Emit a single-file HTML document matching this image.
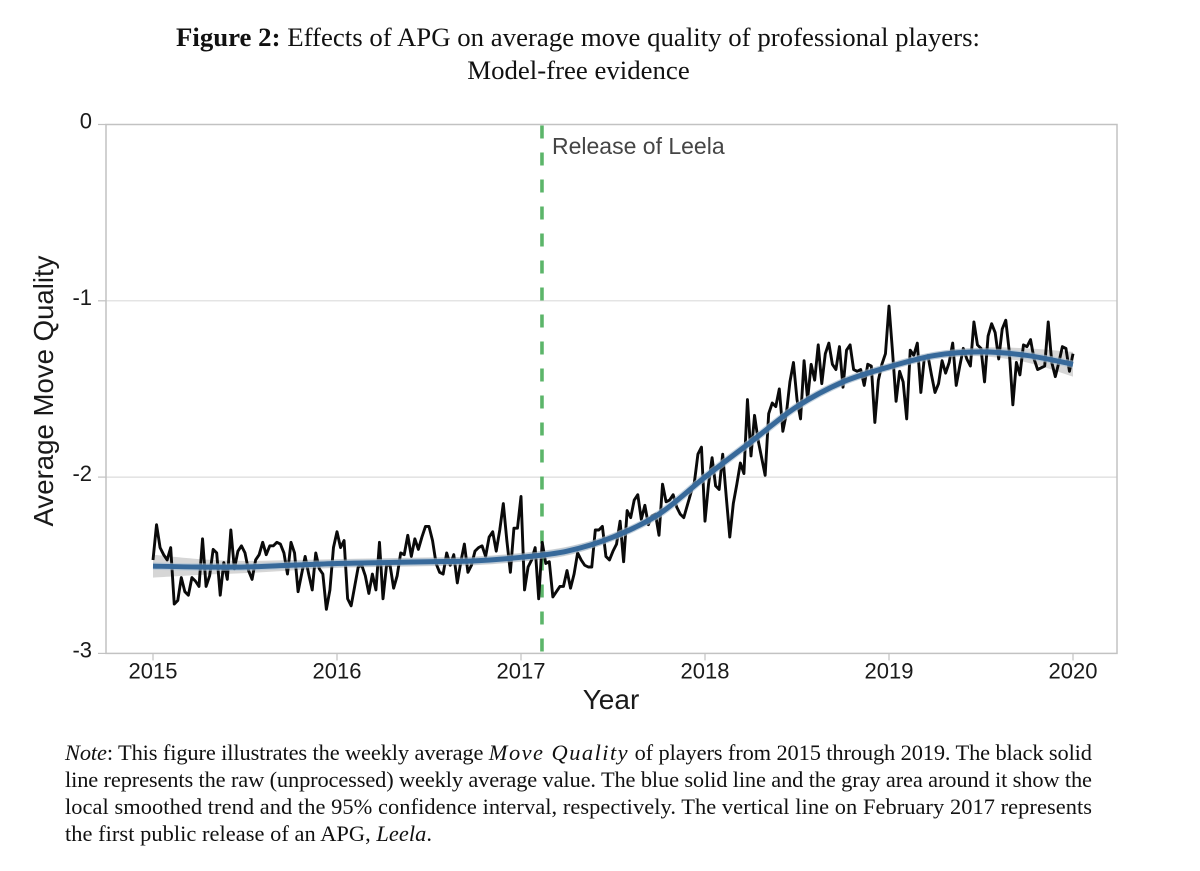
<!DOCTYPE html>
<html lang="en">
<head>
<meta charset="utf-8">
<title>Figure 2: Effects of APG on average move quality</title>
<style>
  html, body { margin: 0; padding: 0; background: #ffffff; }
  svg { display: block; }
  .serif { font-family: "Liberation Serif", serif; fill: #111; }
  .sans { font-family: "Liberation Sans", sans-serif; fill: #1a1a1a; }
</style>
</head>
<body>
<svg id="chart" xmlns="http://www.w3.org/2000/svg" width="1200" height="871" viewBox="0 0 1200 871">
  <rect x="0" y="0" width="1200" height="871" fill="#ffffff"/>
  <text class="serif" x="176" y="46" font-size="26.8" textLength="804"><tspan font-weight="bold">Figure 2:</tspan> Effects of APG on average move quality of professional players:</text>
  <text class="serif" x="578.5" y="79" font-size="26.8" text-anchor="middle">Model-free evidence</text>
  <g id="layer-grid"></g>
  <g id="layer-axes"></g>
  <g id="layer-marks"></g>
  <text class="sans" x="552" y="154" font-size="23" style="fill:#454545">Release of Leela</text>
  <text class="sans" x="611" y="709" font-size="28" text-anchor="middle">Year</text>
  <text class="sans" x="0" y="0" font-size="27.6" text-anchor="middle" transform="translate(53 391) rotate(-90)">Average Move Quality</text>
  <text class="serif" x="65" y="760" font-size="22.4" textLength="1027"><tspan font-style="italic">Note</tspan>: This figure illustrates the weekly average <tspan font-style="italic" letter-spacing="1.6">Move Quality</tspan> of players from 2015 through 2019. The black solid</text>
  <text class="serif" x="65" y="787" font-size="22.4" textLength="1027">line represents the raw (unprocessed) weekly average value. The blue solid line and the gray area around it show the</text>
  <text class="serif" x="65" y="814" font-size="22.4" textLength="1027">local smoothed trend and the 95% confidence interval, respectively. The vertical line on February 2017 represents</text>
  <text class="serif" x="65" y="841" font-size="22.4" textLength="367">the first public release of an APG, <tspan font-style="italic">Leela</tspan>.</text>
</svg>
<script>
const yearTicks = [2015, 2016, 2017, 2018, 2019, 2020];
const valueTicks = [0, -1, -2, -3];
const gridValues = [-1, -2];
const releaseYear = 2017.114;
const weeksPerYear = 52;
const rawWeekly = [
  -2.47,-2.27,-2.40,-2.44,-2.47,-2.40,-2.72,-2.70,-2.57,-2.65,-2.67,-2.57,-2.59,-2.62,-2.35,-2.62,-2.56,-2.41,-2.43,-2.67,
  -2.485,-2.58,-2.30,-2.52,-2.42,-2.39,-2.43,-2.53,-2.58,-2.47,-2.44,-2.37,-2.44,-2.39,-2.39,-2.37,-2.38,-2.43,-2.55,-2.37,
  -2.43,-2.65,-2.55,-2.45,-2.55,-2.64,-2.43,-2.52,-2.55,-2.75,-2.64,-2.40,-2.31,
  -2.40,-2.36,-2.69,-2.73,-2.62,-2.51,-2.50,-2.56,-2.66,-2.55,-2.64,-2.37,-2.69,-2.50,-2.50,-2.63,-2.56,-2.43,-2.44,-2.33,
  -2.45,-2.35,-2.41,-2.34,-2.28,-2.28,-2.36,-2.49,-2.54,-2.55,-2.43,-2.50,-2.44,-2.60,-2.48,-2.38,-2.54,-2.50,-2.42,-2.40,
  -2.39,-2.45,-2.34,-2.31,-2.42,-2.30,-2.15,-2.36,-2.54,-2.29,-2.29,-2.11,-2.64,-2.51,
  -2.47,-2.40,-2.69,-2.37,-2.49,-2.48,-2.68,-2.65,-2.62,-2.62,-2.53,-2.63,-2.55,-2.43,-2.47,-2.50,-2.51,-2.51,-2.30,-2.30,
  -2.28,-2.45,-2.47,-2.42,-2.38,-2.25,-2.48,-2.19,-2.23,-2.13,-2.10,-2.24,-2.16,-2.27,-2.22,-2.21,-2.33,-2.04,-2.14,-2.13,
  -2.10,-2.17,-2.21,-2.23,-2.16,-2.09,-2.03,-1.87,-1.83,-2.25,-2.04,-1.89,-2.05,-2.07,
  -1.87,-2.11,-2.34,-2.15,-2.04,-1.92,-1.98,-1.56,-1.88,-1.65,-1.79,-1.89,-1.99,-1.64,-1.58,-1.60,-1.50,-1.74,-1.64,-1.46,
  -1.35,-1.56,-1.67,-1.34,-1.56,-1.36,-1.45,-1.25,-1.47,-1.30,-1.24,-1.36,-1.39,-1.26,-1.49,-1.28,-1.25,-1.39,-1.40,-1.39,
  -1.48,-1.36,-1.37,-1.69,-1.45,-1.36,-1.30,
  -1.03,-1.29,-1.57,-1.40,-1.46,-1.67,-1.28,-1.31,-1.24,-1.52,-1.32,-1.31,-1.42,-1.52,-1.47,-1.34,-1.41,-1.35,-1.24,-1.48,
  -1.37,-1.27,-1.33,-1.37,-1.12,-1.25,-1.27,-1.46,-1.20,-1.13,-1.18,-1.33,-1.16,-1.11,-1.29,-1.59,-1.35,-1.42,-1.25,-1.26,
  -1.22,-1.33,-1.39,-1.38,-1.37,-1.12,-1.35,-1.43,-1.35,-1.26,-1.27,-1.40,-1.30
];
const smoothYears = [2015,2015.25,2015.5,2015.75,2016,2016.25,2016.5,2016.75,2017,2017.25,2017.5,2017.75,2018,2018.25,2018.5,2018.75,2019,2019.25,2019.5,2019.75,2020];
const smoothValues = [-2.505,-2.51,-2.51,-2.50,-2.49,-2.485,-2.48,-2.475,-2.455,-2.42,-2.34,-2.21,-2.00,-1.80,-1.60,-1.46,-1.375,-1.31,-1.29,-1.31,-1.36];
const smoothMargin = [0.065,0.045,0.035,0.03,0.025,0.025,0.025,0.025,0.025,0.025,0.02,0.02,0.02,0.02,0.02,0.02,0.02,0.02,0.025,0.04,0.07];

const SVG_NS = 'http://www.w3.org/2000/svg';
function xScale(year) { return 153 + (year - 2015) * 184; }
function yScale(value) { return 124.5 - value * 176.3; }
function make(parent, tag, attrs, text) {
  const el = document.createElementNS(SVG_NS, tag);
  for (const k in attrs) el.setAttribute(k, attrs[k]);
  if (text !== undefined) el.textContent = text;
  parent.appendChild(el);
  return el;
}
function smoothPath(points, move) {
  let d = (move ? 'M' : 'L') + points[0][0].toFixed(2) + ' ' + points[0][1].toFixed(2);
  for (let i = 0; i < points.length - 1; i++) {
    const p0 = points[Math.max(i - 1, 0)], p1 = points[i], p2 = points[i + 1], p3 = points[Math.min(i + 2, points.length - 1)];
    const c1x = p1[0] + (p2[0] - p0[0]) / 6, c1y = p1[1] + (p2[1] - p0[1]) / 6;
    const c2x = p2[0] - (p3[0] - p1[0]) / 6, c2y = p2[1] - (p3[1] - p1[1]) / 6;
    d += 'C' + c1x.toFixed(2) + ' ' + c1y.toFixed(2) + ' ' + c2x.toFixed(2) + ' ' + c2y.toFixed(2) + ' ' + p2[0].toFixed(2) + ' ' + p2[1].toFixed(2);
  }
  return d;
}

const gridLayer = document.getElementById('layer-grid');
const axesLayer = document.getElementById('layer-axes');
const marksLayer = document.getElementById('layer-marks');
const plotLeft = 106, plotRight = 1117;
const plotTop = yScale(0), plotBottom = yScale(-3);
const axisColor = '#c2c2c2';

gridValues.forEach(function (v) {
  const line = make(gridLayer, 'line', { x1: plotLeft, x2: plotRight, y1: yScale(v), y2: yScale(v), stroke: '#dcdcdc', 'stroke-width': 1.2 });
  
  
});

const frame = make(axesLayer, 'rect', { x: plotLeft, y: plotTop, width: plotRight - plotLeft, height: plotBottom - plotTop, fill: 'none', stroke: axisColor, 'stroke-width': 1.5 });



valueTicks.forEach(function (v) {
  const tick = make(axesLayer, 'line', { x1: plotLeft - 8, x2: plotLeft, y1: yScale(v), y2: yScale(v), stroke: axisColor, 'stroke-width': 1.2 });
  
  
  const label = make(axesLayer, 'text', { x: 92, y: yScale(v) + 4, 'text-anchor': 'end', 'font-size': 22, class: 'sans' }, String(v));
  
  
});

yearTicks.forEach(function (y) {
  const tick = make(axesLayer, 'line', { x1: xScale(y), x2: xScale(y), y1: plotBottom, y2: plotBottom + 7, stroke: axisColor, 'stroke-width': 1.2 });
  
  
  const label = make(axesLayer, 'text', { x: xScale(y), y: plotBottom + 25, 'text-anchor': 'middle', 'font-size': 22, class: 'sans' }, String(y));
  
  
});

const upperPts = smoothYears.map(function (y, i) { return [xScale(y), yScale(smoothValues[i] + smoothMargin[i])]; });
const lowerPts = smoothYears.map(function (y, i) { return [xScale(y), yScale(smoothValues[i] - smoothMargin[i])]; }).reverse();
const band = make(marksLayer, 'path', { d: smoothPath(upperPts, true) + smoothPath(lowerPts, false) + 'Z', fill: '#cfcfcf', 'fill-opacity': 0.85 });



const release = make(marksLayer, 'line', { x1: xScale(releaseYear), x2: xScale(releaseYear), y1: plotTop + 1, y2: plotBottom, stroke: '#5cb56a', 'stroke-width': 3.6, 'stroke-dasharray': '13 14' });



const rawPoints = rawWeekly.map(function (v, i) { return xScale(2015 + i / weeksPerYear).toFixed(2) + ',' + yScale(v).toFixed(2); });
const rawLine = make(marksLayer, 'polyline', { points: rawPoints.join(' '), fill: 'none', stroke: '#0a0a0a', 'stroke-width': 2.9, 'stroke-linejoin': 'round' });



const smoothPts = smoothYears.map(function (y, i) { return [xScale(y), yScale(smoothValues[i])]; });
const halo = make(marksLayer, 'path', { d: smoothPath(smoothPts, true), fill: 'none', stroke: '#a9bfd4', 'stroke-width': 7.5, 'stroke-opacity': 0.6 });


const trend = make(marksLayer, 'path', { d: smoothPath(smoothPts, true), fill: 'none', stroke: '#37699a', 'stroke-width': 5 });


</script>
</body>
</html>
